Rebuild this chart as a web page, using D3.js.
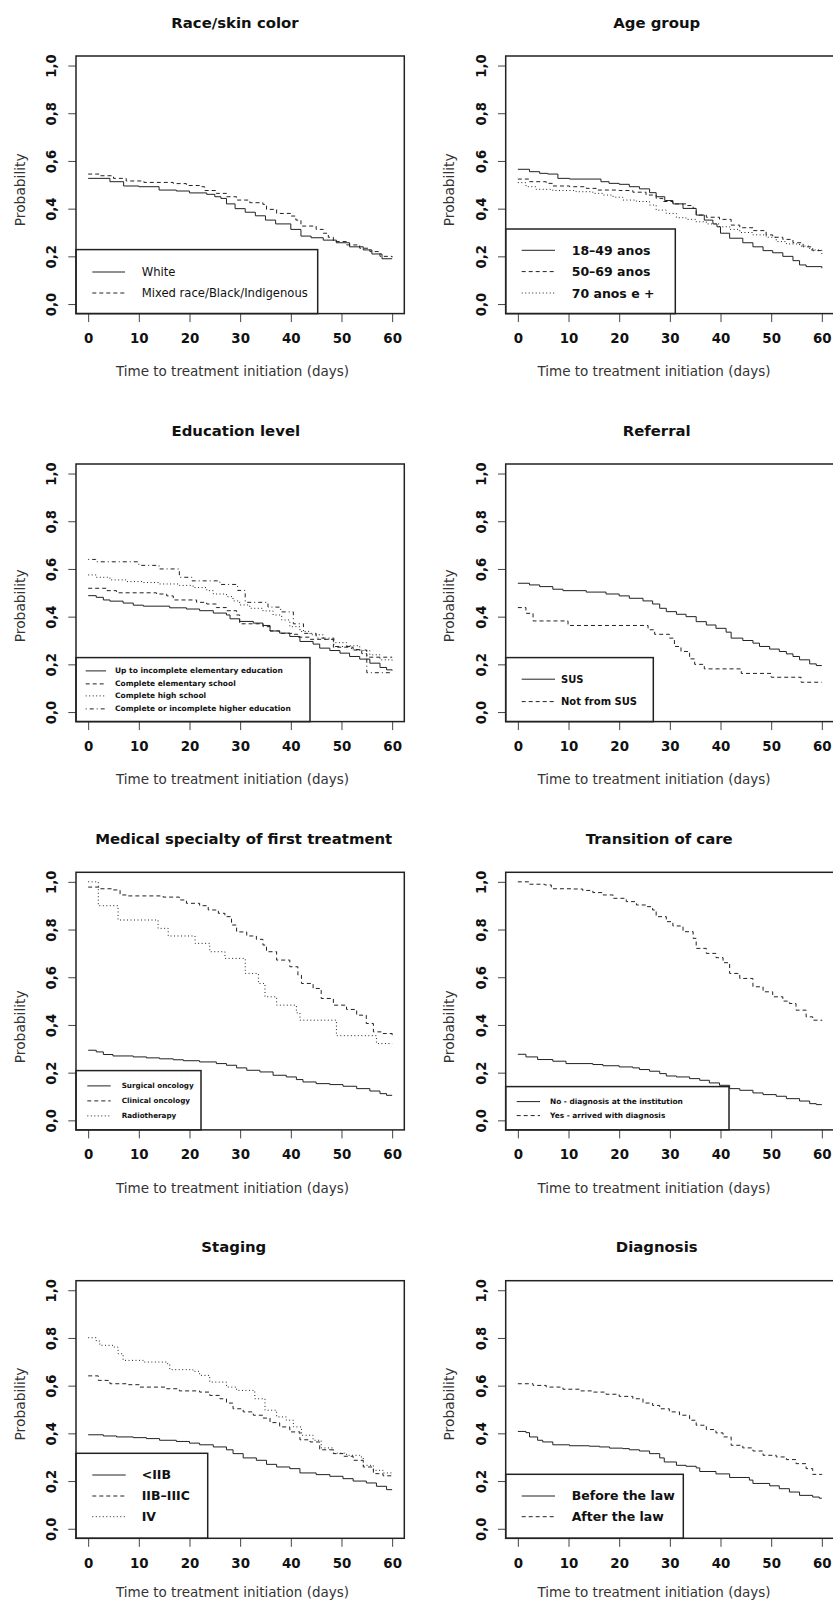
<html>
  <head>
    <script src="https://cdn.jsdelivr.net/npm/d3@7"></script>
    <style>
      body { margin: 0; background: #ffffff; }
      text { font-family: "DejaVu Sans", sans-serif; fill: #111; }
    </style>
  </head>
  <body>
    <div id="charts"></div>
    <script>
      // axis ticks
      let dayTicks = [0, 10, 20, 30, 40, 50, 60];
      let probTicks = [0, 0.2, 0.4, 0.6, 0.8, 1.0];

      // Kaplan-Meier style steps: [day, probability after the step]
      // Race/skin color
      let raceLabels = ["White", "Mixed race/Black/Indigenous"];
      let raceWhite = [[0,0.527],[4.3,0.513],[7,0.495],[10,0.492],[14,0.478],[17.4,0.474],[20,0.466],[23.4,0.46],[25,0.45],[26.2,0.443],[27.3,0.42],[29,0.40],[31,0.385],[33,0.37],[35,0.352],[37,0.336],[40,0.313],[42,0.285],[44,0.278],[46.4,0.268],[49,0.257],[51.6,0.24],[54.3,0.227],[56,0.21],[58,0.19],[60,0.19]];
      let raceMixed = [[0,0.545],[2.3,0.538],[5,0.527],[7.5,0.516],[11,0.51],[16.8,0.505],[19.4,0.497],[22,0.492],[23,0.476],[25.3,0.464],[27.3,0.45],[29.3,0.436],[31.9,0.425],[34.5,0.418],[35.2,0.397],[37.2,0.38],[40,0.369],[41,0.352],[42,0.327],[45,0.313],[46.4,0.297],[47.4,0.28],[48.4,0.262],[51,0.248],[53.6,0.234],[55.6,0.22],[57.6,0.2],[60,0.196]];

      // Age group
      let ageLabels = ["18–49 anos", "50–69 anos", "70 anos e +"];
      let age1849 = [[0,0.565],[2.3,0.555],[4.3,0.548],[5.9,0.545],[7.9,0.527],[10.2,0.524],[16.4,0.513],[18,0.506],[20,0.502],[22,0.492],[24,0.483],[26,0.467],[27.3,0.45],[29,0.434],[30.6,0.42],[32.6,0.401],[35.2,0.373],[36.8,0.352],[38.5,0.336],[39.3,0.324],[40,0.297],[41.8,0.276],[44.4,0.257],[46.4,0.24],[48.4,0.224],[50.3,0.215],[52.3,0.2],[54.3,0.182],[55.6,0.164],[56.9,0.157],[60,0.15]];
      let age5069 = [[0,0.524],[2.3,0.513],[5.6,0.506],[6.9,0.495],[10.2,0.492],[13.5,0.485],[15.5,0.478],[20,0.476],[22.7,0.469],[25.3,0.457],[27.3,0.443],[28.6,0.43],[30.6,0.42],[33.2,0.413],[34.6,0.401],[35.2,0.373],[37.2,0.364],[39.8,0.355],[42.1,0.331],[43.8,0.32],[46.4,0.308],[49,0.29],[50.3,0.28],[52.3,0.271],[54.3,0.257],[56.3,0.24],[58.2,0.224],[60,0.21]];
      let age70 = [[0,0.509],[1.6,0.492],[3.6,0.481],[6.9,0.476],[11.5,0.471],[14.8,0.464],[16.8,0.457],[18.8,0.448],[20.7,0.436],[23.4,0.43],[26,0.415],[27.3,0.394],[29.3,0.38],[31.3,0.362],[33.2,0.355],[35.2,0.345],[37.2,0.336],[39.8,0.324],[41.8,0.313],[43.8,0.3],[46.4,0.29],[49,0.28],[51,0.262],[53,0.252],[55.6,0.243],[57.6,0.227],[60,0.213]];

      // Education level
      let eduLabels = ["Up to incomplete elementary education", "Complete elementary school", "Complete high school", "Complete or incomplete higher education"];
      let eduElemInc = [[0,0.488],[1.6,0.481],[3,0.47],[4.3,0.465],[6.9,0.457],[8.9,0.448],[10.9,0.444],[16.1,0.437],[19.4,0.432],[22,0.425],[24.7,0.415],[27.3,0.407],[28,0.391],[29.9,0.38],[32.6,0.373],[34.5,0.363],[35.9,0.34],[37.8,0.331],[39.8,0.317],[41.8,0.296],[44.4,0.285],[45.7,0.268],[47.7,0.258],[49.7,0.247],[51.6,0.233],[53.6,0.222],[55.6,0.205],[57.6,0.187],[58.9,0.177],[60,0.174]];
      let eduElem = [[0,0.519],[3.6,0.509],[5.6,0.5],[13.5,0.495],[15.5,0.487],[16.8,0.47],[21.4,0.46],[23.4,0.453],[25.3,0.438],[27.3,0.425],[29.3,0.407],[29.9,0.37],[34.5,0.358],[35.9,0.34],[37.8,0.33],[40.5,0.326],[41.4,0.314],[43.8,0.305],[48.4,0.272],[52.3,0.262],[54,0.245],[55,0.23],[60,0.23]];
      let eduHigh = [[0,0.575],[1.6,0.565],[4.3,0.554],[7.6,0.547],[10.9,0.543],[14.1,0.537],[18,0.531],[20.7,0.522],[23.4,0.509],[24.7,0.495],[27.3,0.484],[28.6,0.466],[29.9,0.449],[31.9,0.435],[34.5,0.424],[36.5,0.407],[38.2,0.386],[39.8,0.358],[41.8,0.338],[43.8,0.324],[46.4,0.305],[48.4,0.291],[51,0.278],[53.6,0.258],[55.6,0.24],[57.6,0.219],[60,0.209]];
      let eduHigher = [[0,0.64],[1.5,0.63],[10,0.615],[14,0.6],[18,0.565],[20.5,0.55],[26,0.535],[29.5,0.51],[31,0.46],[35.5,0.44],[38,0.42],[40.5,0.37],[42.5,0.33],[45,0.31],[48.5,0.275],[52,0.26],[55,0.165],[60,0.165]];

      // Referral
      let refLabels = ["SUS", "Not from SUS"];
      let refSus = [[0,0.54],[2.3,0.533],[4.3,0.526],[6.9,0.515],[8.9,0.509],[13.5,0.503],[17.4,0.495],[20,0.487],[22,0.477],[24.7,0.466],[26.6,0.453],[28,0.435],[29.3,0.421],[31.3,0.41],[33.2,0.4],[35.2,0.379],[37.2,0.365],[39.1,0.351],[41.1,0.335],[42.1,0.31],[44.4,0.3],[46.4,0.289],[47.7,0.275],[49.7,0.264],[51.6,0.254],[53,0.244],[54.3,0.233],[55.6,0.219],[57.6,0.202],[58.9,0.195],[60,0.195]];
      let refNotSus = [[0,0.438],[1.6,0.414],[3,0.382],[9.9,0.363],[25.7,0.345],[27,0.326],[29.9,0.31],[30.9,0.275],[32.2,0.254],[33.9,0.223],[34.9,0.2],[36.8,0.181],[44.1,0.162],[50,0.146],[55.9,0.125],[60,0.125]];

      // Medical specialty of first treatment
      let medLabels = ["Surgical oncology", "Clinical oncology", "Radiotherapy"];
      let medSurgical = [[0,0.294],[1.6,0.287],[3,0.276],[4.9,0.27],[8.9,0.266],[11.5,0.262],[14.1,0.258],[16.8,0.254],[18.8,0.25],[22,0.245],[25.3,0.238],[27.3,0.231],[29.3,0.22],[31.3,0.21],[33.9,0.203],[36.5,0.189],[39.1,0.182],[41.1,0.171],[42.4,0.161],[45,0.154],[47.7,0.15],[50.3,0.143],[53,0.133],[55.6,0.123],[57.6,0.112],[58.9,0.105],[60,0.105]];
      let medClinical = [[0,0.978],[2.3,0.971],[4.9,0.966],[6.3,0.945],[7.6,0.941],[14.8,0.936],[18,0.924],[19.4,0.91],[22,0.9],[23.7,0.882],[25.7,0.868],[27,0.854],[28.3,0.819],[29.3,0.79],[31.3,0.773],[33.2,0.759],[34.5,0.735],[35.2,0.707],[37.2,0.672],[39.8,0.644],[41.4,0.609],[42.1,0.574],[44.4,0.553],[46,0.511],[48.4,0.483],[51,0.465],[53,0.441],[54.9,0.406],[56.3,0.371],[58.2,0.364],[60,0.35]];
      let medRadio = [[0,1.0],[2,0.9],[5.9,0.84],[13.8,0.805],[15.8,0.773],[21.1,0.742],[24,0.707],[27,0.679],[31,0.616],[33.6,0.574],[34.9,0.518],[37.2,0.483],[41.1,0.451],[41.8,0.42],[49,0.355],[56.9,0.322],[60,0.322]];

      // Transition of care
      let transLabels = ["No - diagnosis at the institution", "Yes - arrived with diagnosis"];
      let transNo = [[0,0.277],[1.6,0.266],[3.9,0.255],[6.9,0.248],[9.5,0.238],[14.8,0.234],[16.8,0.229],[20,0.224],[22.7,0.22],[24,0.213],[26,0.206],[28,0.196],[29.3,0.186],[31.3,0.182],[33.9,0.175],[35.9,0.168],[37.8,0.157],[39.8,0.147],[41.8,0.133],[43.8,0.126],[46.4,0.115],[48.4,0.108],[51,0.101],[53,0.091],[55.6,0.081],[57.6,0.07],[58.9,0.066],[60,0.066]];
      let transYes = [[0,1.0],[2.3,0.99],[5.3,0.987],[6.6,0.971],[10.9,0.97],[12.8,0.964],[14.8,0.955],[16.8,0.945],[18.8,0.931],[21.4,0.917],[23.4,0.903],[25.3,0.896],[26.6,0.882],[27.3,0.854],[29.3,0.833],[30.6,0.815],[32.6,0.791],[34.6,0.763],[35.2,0.721],[37.2,0.7],[39.1,0.682],[40.5,0.661],[41.8,0.616],[43.8,0.595],[46.4,0.56],[48.4,0.539],[50.3,0.518],[52.3,0.5],[53.6,0.49],[54.9,0.462],[56.9,0.434],[58.2,0.42],[60,0.417]];

      // Staging
      let stageLabels = ["<IIB", "IIB–IIIC", "IV"];
      let stageLow = [[0,0.394],[3,0.389],[5.6,0.385],[8.9,0.382],[11.5,0.378],[14.1,0.371],[17.4,0.366],[20,0.359],[22,0.352],[24.7,0.343],[27.3,0.331],[28.6,0.315],[30.6,0.297],[33.2,0.287],[35.2,0.27],[37.2,0.259],[39.8,0.252],[41.8,0.234],[45,0.227],[47.7,0.22],[50.3,0.21],[52.3,0.2],[54.9,0.192],[56.9,0.178],[58.9,0.164],[60,0.164]];
      let stageMid = [[0,0.641],[2,0.622],[4.3,0.608],[7.6,0.604],[10.2,0.594],[15.5,0.587],[18,0.578],[22,0.573],[24,0.559],[26,0.545],[27.3,0.527],[28.6,0.503],[30.6,0.49],[32.6,0.476],[34.5,0.464],[35.9,0.445],[37.8,0.427],[39.8,0.406],[41.8,0.373],[43.8,0.364],[45.7,0.331],[48.4,0.315],[50.3,0.304],[52.3,0.287],[54.3,0.259],[56.3,0.231],[58.2,0.222],[60,0.22]];
      let stageIV = [[0,0.801],[1.6,0.787],[2.3,0.769],[4.9,0.762],[5.9,0.734],[6.9,0.706],[10.9,0.699],[15.5,0.692],[16.1,0.667],[20.7,0.66],[22,0.643],[24,0.615],[27.3,0.594],[29.3,0.58],[32.9,0.545],[34.9,0.497],[37.2,0.469],[39.1,0.455],[40.5,0.427],[42.1,0.392],[44.4,0.371],[46,0.339],[48.4,0.317],[51,0.308],[53.6,0.301],[54.3,0.266],[56.3,0.245],[58.2,0.234],[60,0.234]];

      // Diagnosis
      let diagLabels = ["Before the law", "After the law"];
      let diagBefore = [[0,0.408],[1.6,0.403],[2.3,0.385],[3.9,0.371],[4.9,0.364],[6.9,0.352],[10.2,0.348],[14.1,0.346],[16.1,0.343],[18.1,0.338],[20.7,0.336],[22,0.331],[24,0.326],[26,0.315],[28,0.297],[28.9,0.28],[31.3,0.266],[33.2,0.262],[35.2,0.255],[35.9,0.24],[39.1,0.23],[41.8,0.215],[45.7,0.204],[46.4,0.19],[49.7,0.18],[51.6,0.168],[53.6,0.154],[55.6,0.14],[58.2,0.133],[59.5,0.128],[60,0.128]];
      let diagAfter = [[0,0.608],[3,0.601],[5.6,0.594],[8.9,0.585],[12.2,0.578],[14.8,0.573],[17.4,0.564],[20,0.555],[22.7,0.545],[24.7,0.527],[26.6,0.517],[28,0.503],[29.9,0.49],[31.9,0.476],[33.9,0.455],[35.2,0.434],[37.2,0.416],[39.1,0.402],[40.5,0.385],[42.1,0.35],[44.4,0.339],[46.4,0.326],[48.4,0.308],[51,0.301],[53,0.29],[54.9,0.273],[56.9,0.252],[58.2,0.228],[60,0.226]];

      // line types like R's lty 1..4
      let dashes = { solid: null, dashed: "4,3", dotted: "1,2.5", dotdash: "1,3,4,3" };

      let panels = [
        { title: "Race/skin color", labels: raceLabels, series: [raceWhite, raceMixed], lty: ["solid", "dashed"],
          titleX: 235, leg: { w: 241.7, h: 64, line: [16.3, 49], tx: 65.7, rows: [22.4, 43.4], size: 11.6, weight: "normal" } },
        { title: "Age group", labels: ageLabels, series: [age1849, age5069, age70], lty: ["solid", "dashed", "dotted"],
          titleX: 656.7, leg: { w: 169.6, h: 84.6, line: [16, 49.3], tx: 66, rows: [21.3, 42.6, 64], size: 12.5, weight: "bold" } },
        { title: "Education level", labels: eduLabels, series: [eduElemInc, eduElem, eduHigh, eduHigher], lty: ["solid", "dashed", "dotted", "dotdash"],
          titleX: 235.8, leg: { w: 234, h: 64, line: [9.7, 30], tx: 39, rows: [13.3, 26.3, 38.3, 51.3], size: 7.5, weight: "bold" } },
        { title: "Referral", labels: refLabels, series: [refSus, refNotSus], lty: ["solid", "dashed"],
          titleX: 656.7, leg: { w: 147.6, h: 64, line: [16, 49.3], tx: 55.3, rows: [21.6, 44], size: 10, weight: "bold" } },
        { title: "Medical specialty of first treatment", labels: medLabels, series: [medSurgical, medClinical, medRadio], lty: ["solid", "dashed", "dotted"],
          titleX: 243.7, leg: { w: 125, h: 59.3, line: [11.3, 34.7], tx: 45.7, rows: [15.3, 30.3, 45.3], size: 7.2, weight: "bold" } },
        { title: "Transition of care", labels: transLabels, series: [transNo, transYes], lty: ["solid", "dashed"],
          titleX: 659.2, leg: { w: 223.3, h: 43.3, line: [11, 34.3], tx: 44.3, rows: [15, 29], size: 7.4, weight: "bold" } },
        { title: "Staging", labels: stageLabels, series: [stageLow, stageMid, stageIV], lty: ["solid", "dashed", "dotted"],
          titleX: 233.8, leg: { w: 131.7, h: 85, line: [16.3, 49.7], tx: 65.7, rows: [21.7, 42.7, 63.4], size: 12.5, weight: "bold" } },
        { title: "Diagnosis", labels: diagLabels, series: [diagBefore, diagAfter], lty: ["solid", "dashed"],
          titleX: 656.7, leg: { w: 177.6, h: 64, line: [16, 49.3], tx: 66, rows: [21.7, 42.4], size: 12.5, weight: "bold" } },
      ];

      // page and plot sizes
      let pageW = 833, pageH = 1602;
      let plotW = 328.3, plotH = 257.6;
      let colLeft = [76, 505.7];
      let rowTop = [56, 464, 872.3, 1280.7];
      let ylabShift = [5, 13, 25.7, -5.5]; // "Probability" offset per row

      let svg = d3
        .select("#charts")
        .append("svg")
        .attr("width", pageW)
        .attr("height", pageH)
        .style("display", "block");

      panels.forEach(function (p, i) {
        let row = Math.floor(i / 2), col = i % 2;
        let left = colLeft[col], top = rowTop[row];
        let bottom = top + plotH;

        // R style: 4% padding on both sides of data range
        let x = d3.scaleLinear().domain([-2.4, 62.4]).range([left, left + plotW]);
        let y = d3.scaleLinear().domain([-0.04, 1.04]).range([bottom, top]);

        let g = svg.append("g");

        // title
        g.append("text")
          .attr("x", p.titleX)
          .attr("y", top - 33.3)
          .attr("text-anchor", "middle")
          .attr("dominant-baseline", "central")
          .style("font-weight", "bold")
          .style("font-size", "14.9px")
          .text(p.title);

        // survival curves
        let line = d3
          .line()
          .curve(d3.curveStepAfter)
          .x((d) => x(d[0]))
          .y((d) => y(d[1]));

        p.series.forEach(function (s, k) {
          g.append("path")
            .datum(s)
            .attr("fill", "none")
            .attr("stroke", "#222")
            .attr("stroke-width", 1)
            .attr("stroke-dasharray", dashes[p.lty[k]])
            .attr("d", line);
        });

        // x axis
        let xAxis = d3.axisBottom(x).tickValues(dayTicks).tickSize(8.5).tickPadding(8).tickSizeOuter(0);
        let xg = g.append("g").attr("transform", "translate(0," + bottom + ")").call(xAxis);
        xg.select(".domain").remove();
        xg.selectAll(".tick line").attr("stroke", "#444");
        xg.selectAll(".tick text")
          .attr("y", 282.7 - plotH)
          .attr("dy", null)
          .attr("dominant-baseline", "central")
          .style("font-family", "DejaVu Sans, sans-serif")
          .style("font-size", "13.4px")
          .style("font-weight", "bold")
          .attr("fill", "#111");

        // y axis, labels turned like R's las = 0
        let yAxis = d3.axisLeft(y).tickValues(probTicks).tickSize(7.7).tickSizeOuter(0)
          .tickFormat((d) => d3.format(".1f")(d).replace(".", ","));
        let yg = g.append("g").attr("transform", "translate(" + left + ",0)").call(yAxis);
        yg.select(".domain").remove();
        yg.selectAll(".tick line").attr("stroke", "#444");
        yg.selectAll(".tick text")
          .attr("x", null)
          .attr("dy", null)
          .attr("transform", "translate(-24.3,0) rotate(-90)")
          .attr("text-anchor", "middle")
          .attr("dominant-baseline", "central")
          .style("font-family", "DejaVu Sans, sans-serif")
          .style("font-size", "13.2px")
          .style("font-weight", "bold")
          .attr("fill", "#111");

        // axis titles (kept inside the page at the bottom row)
        g.append("text")
          .attr("x", col === 0 ? 232.5 : 654)
          .attr("y", Math.min(top + 315.3, pageH - 10))
          .attr("text-anchor", "middle")
          .attr("dominant-baseline", "central")
          .style("font-size", "13.5px")
          .style("fill", "#333")
          .text("Time to treatment initiation (days)");

        g.append("text")
          .attr("transform", "translate(" + (left - 56.5) + "," + (top + plotH / 2 + ylabShift[row]) + ") rotate(-90)")
          .attr("text-anchor", "middle")
          .attr("dominant-baseline", "central")
          .style("font-size", "13.8px")
          .style("fill", "#333")
          .text("Probability");

        // legend box at bottom left
        let lg = g.append("g").attr("transform", "translate(" + left + "," + (bottom - p.leg.h) + ")");
        lg.append("rect")
          .attr("width", p.leg.w)
          .attr("height", p.leg.h)
          .attr("fill", "#fff")
          .attr("stroke", "#222")
          .attr("stroke-width", 1.5);

        p.labels.forEach(function (lab, k) {
          lg.append("line")
            .attr("x1", p.leg.line[0])
            .attr("x2", p.leg.line[1])
            .attr("y1", p.leg.rows[k])
            .attr("y2", p.leg.rows[k])
            .attr("stroke", "#222")
            .attr("stroke-width", 1)
            .attr("stroke-dasharray", dashes[p.lty[k]]);
          lg.append("text")
            .attr("x", p.leg.tx)
            .attr("y", p.leg.rows[k])
            .attr("dominant-baseline", "central")
            .style("font-size", p.leg.size + "px")
            .style("font-weight", p.leg.weight)
            .text(lab);
        });

        // plot box
        g.append("rect")
          .attr("x", left)
          .attr("y", top)
          .attr("width", plotW)
          .attr("height", plotH)
          .attr("fill", "none")
          .attr("stroke", "#222")
          .attr("stroke-width", 1.5);
      });
    </script>
  </body>
</html>
